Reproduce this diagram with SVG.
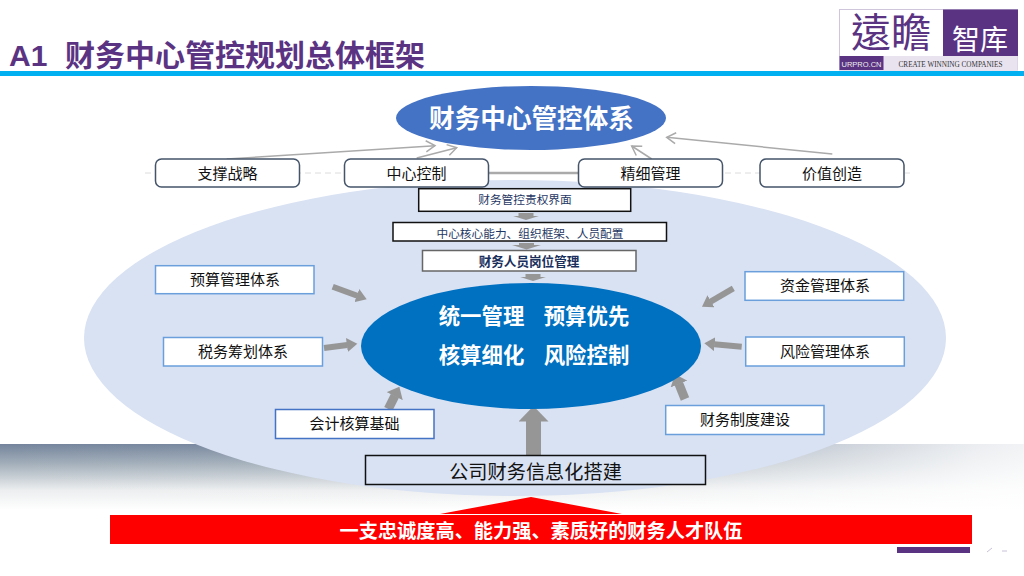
<svg xmlns="http://www.w3.org/2000/svg" width="1024" height="576" viewBox="0 0 1024 576">
<style>
text{font-family:"Noto Sans CJK SC","Noto Sans CJK TC",sans-serif;text-anchor:middle;fill:#111}
.rbox{fill:#fff;stroke:#44546a;stroke-width:1.5}
.sbox{fill:#fff;stroke:#6a9fdc;stroke-width:1.5}
.t15{font-size:15px}
.mid{fill:#fff;stroke:#111;stroke-width:1.5}
.t12{font-size:11.7px;fill:#1f3864}
.w{fill:#fff;font-weight:700}
.thin{stroke:#aaa;stroke-width:1.5;fill:none;marker-end:url(#open)}
.blk{stroke:#969696;fill:none}
</style>
<defs>
<linearGradient id="bandV" x1="0" y1="0" x2="0" y2="1"><stop offset="0" stop-color="#74849c"/><stop offset=".3" stop-color="#a3afba"/><stop offset=".7" stop-color="#eceeef"/><stop offset="1" stop-color="#fff"/></linearGradient>
<linearGradient id="bandH" x1="0" y1="0" x2="1" y2="0"><stop offset="0" stop-color="#fff" stop-opacity="0"/><stop offset=".5" stop-color="#fff" stop-opacity=".1"/><stop offset=".95" stop-color="#fff" stop-opacity=".85"/><stop offset="1" stop-color="#fff" stop-opacity=".9"/></linearGradient>
<marker id="open" markerUnits="userSpaceOnUse" markerWidth="14" markerHeight="14" viewBox="0 0 14 14" refX="12" refY="7" orient="auto"><path d="M3 1.5L12 7L3 12.5" fill="none" stroke="#aaa" stroke-width="1.5"/></marker>
<marker id="head" markerUnits="userSpaceOnUse" markerWidth="11" markerHeight="14" viewBox="0 0 11 14" refX="0.5" refY="7" orient="auto"><path d="M0 0L10.5 7L0 14z" fill="#969696"/></marker>
<marker id="headB" markerUnits="userSpaceOnUse" markerWidth="11" markerHeight="18" viewBox="0 0 11 18" refX="0.5" refY="9" orient="auto"><path d="M0 0L10.5 9L0 18z" fill="#969696"/></marker>
<marker id="headL" markerUnits="userSpaceOnUse" markerWidth="16" markerHeight="30" viewBox="0 0 16 30" refX="0.5" refY="15" orient="auto"><path d="M0 0L15.5 15L0 30z" fill="#969696"/></marker>
<marker id="headS" markerUnits="userSpaceOnUse" markerWidth="5" markerHeight="29" viewBox="0 0 5 29" refX="0.5" refY="14.5" orient="auto"><path d="M0 0L4.5 14.5L0 29z" fill="#969696"/></marker>
</defs>
<rect width="1024" height="576" fill="#fff"/>
<g id="band"><rect x="0" y="444" width="1024" height="66" fill="url(#bandV)"/><rect x="0" y="444" width="1024" height="66" fill="url(#bandH)"/></g>
<g id="title"><text x="9" y="66" font-size="30" font-weight="700" style="text-anchor:start;fill:#5b3383;font-family:'Liberation Sans','Noto Sans CJK SC',sans-serif">A1<tspan x="65">财务中心管控规划总体框架</tspan></text><rect x="0" y="71" width="1024" height="5" fill="#00b0f0"/></g>
<g id="logo">
<rect x="839.5" y="9.5" width="178" height="60.5" fill="#fff" stroke="#cfc6dc"/>
<rect x="943" y="9.5" width="75" height="46.5" fill="#5b3383"/>
<rect x="839.5" y="56" width="178" height="14" fill="#e9e3f0"/>
<rect x="839.5" y="56" width="44" height="14" fill="#5b3383"/>
<text x="891" y="47" font-size="40" style="fill:#5b3383;font-family:'Noto Sans CJK TC',sans-serif">遠瞻</text>
<text x="980" y="50" font-size="28" style="fill:#fff;font-family:'Noto Sans CJK SC',sans-serif">智库</text>
<text x="861.5" y="66.5" font-size="7.5" style="fill:#eee;font-family:'Liberation Sans',sans-serif">URPRO.CN</text>
<text x="950.5" y="66.5" font-size="7.2" style="fill:#333;font-family:'Liberation Serif',serif">CREATE WINNING COMPANIES</text>
</g>
<g id="outer-ellipse"><ellipse cx="515" cy="338" rx="431" ry="158" fill="#d9e2f3"/></g>
<g id="top-ellipse"><ellipse cx="531" cy="118" rx="135" ry="32" fill="#4472c4"/><text class="w" x="531.5" y="128" font-size="25.6">财务中心管控体系</text></g>
<g id="connectors">
<line x1="145" y1="173" x2="910" y2="173" stroke="#dcdcdc" stroke-dasharray="6 4"/>
<line x1="488" y1="173" x2="579" y2="173" stroke="#aaa" stroke-width="2.5"/>
<line class="thin" x1="226.7" y1="159" x2="435" y2="145.7"/>
<line class="thin" x1="416.7" y1="158" x2="456.7" y2="147.7"/>
<line class="thin" x1="651.7" y1="159" x2="631.7" y2="146"/>
<line class="thin" x1="832.3" y1="154" x2="666.7" y2="137.3"/>
<line class="blk" stroke-width="15" x1="526" y1="213" x2="526" y2="216" marker-end="url(#headS)"/>
<line class="blk" stroke-width="15" x1="526.5" y1="243" x2="526.5" y2="245.5" marker-end="url(#headS)"/>
<line class="blk" stroke-width="15" x1="533" y1="274" x2="533" y2="277" marker-end="url(#headS)"/>
<line class="blk" stroke-width="6" x1="332.7" y1="286.7" x2="357.3" y2="295.8" marker-end="url(#head)"/>
<line class="blk" stroke-width="6" x1="324" y1="348" x2="347.4" y2="345" marker-end="url(#head)"/>
<line class="blk" stroke-width="9" x1="388.3" y1="409" x2="394.9" y2="395.7" marker-end="url(#headB)"/>
<line class="blk" stroke-width="6" x1="733.3" y1="288.3" x2="710.6" y2="301.6" marker-end="url(#head)"/>
<line class="blk" stroke-width="6" x1="741.7" y1="346.7" x2="714.3" y2="344.2" marker-end="url(#head)"/>
<line class="blk" stroke-width="9" x1="685" y1="399" x2="678.8" y2="383.6" marker-end="url(#headB)"/>
<line class="blk" stroke-width="15" x1="533.5" y1="455" x2="533.5" y2="421" marker-end="url(#headL)"/>
</g>
<g id="node-zhicheng"><rect class="rbox" x="155.5" y="159" width="144" height="28" rx="6"/><text class="t15" x="227.5" y="179">支撑战略</text></g>
<g id="node-zhongxin"><rect class="rbox" x="344.5" y="159" width="144" height="28" rx="6"/><text class="t15" x="416.5" y="179">中心控制</text></g>
<g id="node-jingxi"><rect class="rbox" x="578.5" y="159" width="144" height="28" rx="6"/><text class="t15" x="650.5" y="179">精细管理</text></g>
<g id="node-jiazhi"><rect class="rbox" x="760" y="159" width="144" height="28" rx="6"/><text class="t15" x="832" y="179">价值创造</text></g>
<g id="node-jiemian"><rect class="mid" x="418.7" y="188.7" width="212" height="22.6"/><text class="t12" x="525" y="204">财务管控责权界面</text></g>
<g id="node-nengli"><rect class="mid" x="393" y="222.5" width="273.5" height="18.5"/><text class="t12" x="530" y="238">中心核心能力、组织框架、人员配置</text></g>
<g id="node-gangwei"><rect x="422.5" y="250.5" width="213.5" height="20.5" fill="#fff" stroke="#666" stroke-width="1.5"/><text class="t12" x="529" y="266" style="font-size:12.6px;font-weight:700;fill:#1a2f5c">财务人员岗位管理</text></g>
<g id="center"><ellipse cx="531" cy="346" rx="170" ry="63" fill="#0070c0"/>
<text class="w" x="481.5" y="324" font-size="21.4">统一管理</text><text class="w" x="586.5" y="324" font-size="21.4">预算优先</text>
<text class="w" x="481.5" y="363" font-size="21.4">核算细化</text><text class="w" x="586.5" y="363" font-size="21.4">风险控制</text></g>
<g id="node-yusuan"><rect class="sbox" x="155.5" y="265.7" width="158.5" height="28"/><text class="t15" x="235" y="285">预算管理体系</text></g>
<g id="node-shuiwu"><rect class="sbox" x="163.5" y="337.5" width="159" height="28.5"/><text class="t15" x="243" y="357">税务筹划体系</text></g>
<g id="node-kuaiji"><rect x="275.5" y="409.5" width="158.5" height="29" fill="#fff" stroke="#4472c4" stroke-width="1.5"/><text class="t15" x="354.5" y="429">会计核算基础</text></g>
<g id="node-zijin"><rect class="sbox" x="745" y="271.7" width="158.7" height="28.6"/><text class="t15" x="825" y="291">资金管理体系</text></g>
<g id="node-fengxian"><rect class="sbox" x="745.7" y="337" width="158.6" height="29"/><text class="t15" x="825" y="357">风险管理体系</text></g>
<g id="node-zhidu"><rect class="sbox" x="665.7" y="405.5" width="158.3" height="29"/><text class="t15" x="745" y="425">财务制度建设</text></g>
<g id="node-xinxi"><rect x="365.5" y="455.5" width="340" height="29" fill="#d9e2f3" stroke="#111" stroke-width="1.5"/><text x="535.5" y="479" font-size="19.2">公司财务信息化搭建</text></g>
<g id="node-team"><path d="M531 497L622 514H440z" fill="#f00"/><rect x="110" y="515" width="862" height="29" fill="#f00"/><text class="w" x="541" y="538" font-size="19.2">一支忠诚度高、能力强、素质好的财务人才队伍</text></g>
<g id="footer"><rect x="897" y="547" width="73" height="6" fill="#5b3383"/><path d="M987 552L992 548M1002 551H1007" stroke="#c9c2d8" fill="none"/></g>
</svg>
